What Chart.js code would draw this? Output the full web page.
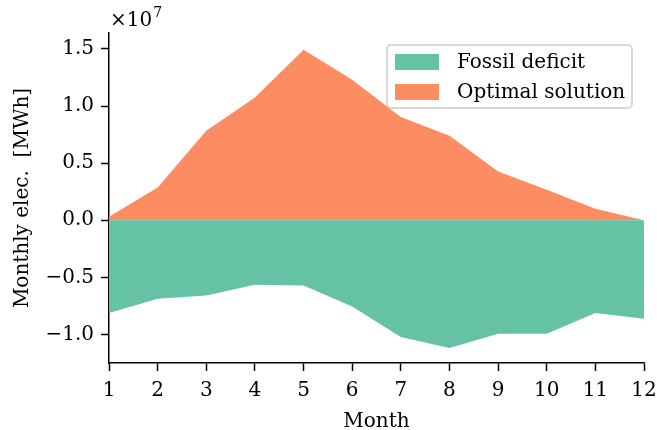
<!DOCTYPE html>
<html>
<head>
<meta charset="utf-8">
<script src="https://cdn.jsdelivr.net/npm/chart.js@4.4.1/dist/chart.umd.min.js"></script>
<style>
  html, body { margin: 0; padding: 0; background: #fff; }
  #wrap { width: 657px; height: 430px; }
</style>
</head>
<body>
<div id="wrap"><canvas id="c" width="657" height="430"></canvas></div>
<script>
// Monthly electricity balance [MWh]
const months = [1, 2, 3, 4, 5, 6, 7, 8, 9, 10, 11, 12];
const fossilDeficit = [-8130000, -6870000, -6580000, -5650000, -5710000, -7550000,
                       -10230000, -11190000, -9940000, -9940000, -8130000, -8620000];
const optimalSolution = [300000, 2870000, 7840000, 10750000, 14930000, 12300000,
                         9040000, 7400000, 4270000, 2670000, 1000000, 0];
const yTickValues = [-10000000, -5000000, 0, 5000000, 10000000, 15000000];
const seriesNames = ['Fossil deficit', 'Optimal solution'];
const seriesColors = ['#66c2a5', '#fc8d62'];

const FONT = 'DejaVu Serif';
const FS = 20;
const font = { family: FONT, size: FS, lineHeight: 1.0 };

function fmtTick(v) {
  const s = Math.abs(v / 1e7).toFixed(1);
  return v < 0 ? '\u2212' + s : s;
}

// Scale-factor label and floating legend
const extras = {
  id: 'extras',
  afterDraw(chart) {
    const ctx = chart.ctx;
    const area = chart.chartArea;
    ctx.save();
    ctx.fillStyle = '#000';
    ctx.textBaseline = 'alphabetic';
    ctx.textAlign = 'left';
    ctx.font = FS + 'px "' + FONT + '"';
    const base = area.top - 7;
    ctx.fillText('\u00d710', area.left + 1, base);
    const w = ctx.measureText('\u00d710').width;
    ctx.font = Math.round(FS * 0.7) + 'px "' + FONT + '"';
    ctx.fillText('7', area.left + 1 + w + 1, base - 9);

    // legend box
    const lx = 387, ly = 45, lw = 245, lh = 63, r = 4;
    ctx.beginPath();
    ctx.moveTo(lx + r, ly);
    ctx.arcTo(lx + lw, ly, lx + lw, ly + lh, r);
    ctx.arcTo(lx + lw, ly + lh, lx, ly + lh, r);
    ctx.arcTo(lx, ly + lh, lx, ly, r);
    ctx.arcTo(lx, ly, lx + lw, ly, r);
    ctx.closePath();
    ctx.fillStyle = 'rgba(255,255,255,0.85)';
    ctx.fill();
    ctx.strokeStyle = '#cccccc';
    ctx.lineWidth = 1.5;
    ctx.stroke();

    ctx.font = FS + 'px "' + FONT + '"';
    ctx.textBaseline = 'middle';
    chart.data.datasets.forEach((ds, i) => {
      const cy = 62 + i * 30;
      ctx.fillStyle = ds.backgroundColor;
      ctx.fillRect(395, cy - 8, 44, 16);
      ctx.fillStyle = '#000';
      ctx.fillText(ds.label, 457, cy + 1);
    });
    ctx.restore();
  }
};

const toPoints = vals => months.map((m, i) => ({ x: m, y: vals[i] }));

new Chart(document.getElementById('c'), {
  type: 'line',
  data: {
    datasets: [
      {
        label: seriesNames[0],
        data: toPoints(fossilDeficit),
        backgroundColor: seriesColors[0],
        borderColor: 'rgba(0,0,0,0)',
        borderWidth: 0,
        pointRadius: 0,
        fill: 'origin',
        tension: 0
      },
      {
        label: seriesNames[1],
        data: toPoints(optimalSolution),
        backgroundColor: seriesColors[1],
        borderColor: 'rgba(0,0,0,0)',
        borderWidth: 0,
        pointRadius: 0,
        fill: 'origin',
        tension: 0
      }
    ]
  },
  options: {
    responsive: false,
    animation: false,
    devicePixelRatio: 1,
    layout: { padding: { left: 0, top: 33, right: 13, bottom: 0 } },
    plugins: {
      legend: { display: false },
      tooltip: { enabled: false }
    },
    scales: {
      x: {
        type: 'linear',
        min: 1,
        max: 12,
        afterBuildTicks: s => { s.ticks = months.map(v => ({ value: v })); },
        afterFit: s => { s.height = 67; s.paddingLeft = 0; s.paddingRight = 0; },
        ticks: {
          font: font, color: '#000', padding: 10, maxRotation: 0, autoSkip: false,
          callback: v => String(v)
        },
        grid: {
          drawOnChartArea: false, drawTicks: true, tickLength: 8,
          tickColor: '#000', tickWidth: 1.5
        },
        border: { display: true, color: '#000', width: 1.5 },
        title: {
          display: true, text: 'Month', color: '#000',
          font: { family: FONT, size: FS, lineHeight: 0.8 }, padding: { top: 0, bottom: 0 }
        }
      },
      y: {
        type: 'linear',
        min: -12500000,
        max: 16400000,
        afterBuildTicks: s => { s.ticks = yTickValues.map(v => ({ value: v })); },
        afterFit: s => { s.width = 109; s.paddingTop = 0; s.paddingBottom = 0; },
        ticks: {
          font: font, color: '#000', padding: 7, autoSkip: false,
          callback: v => fmtTick(v)
        },
        grid: {
          drawOnChartArea: false, drawTicks: true, tickLength: 8,
          tickColor: '#000', tickWidth: 1.5
        },
        border: { display: true, color: '#000', width: 1.5 },
        title: {
          display: true, text: 'Monthly elec.  [MWh]', color: '#000',
          font: font, padding: { top: 13, bottom: 0 }
        }
      }
    }
  },
  plugins: [extras]
});
</script>
</body>
</html>
